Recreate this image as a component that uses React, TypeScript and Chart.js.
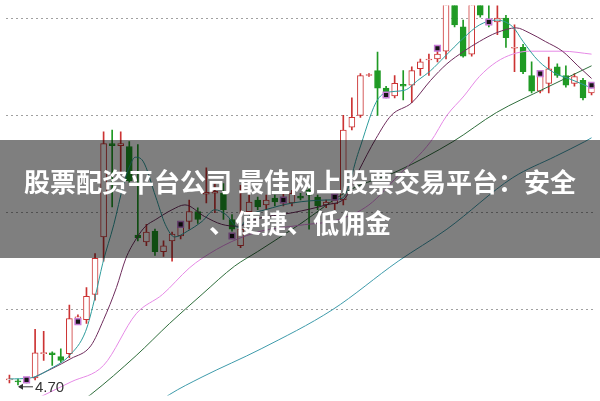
import React, { useEffect, useRef } from "react";
import { Chart, registerables } from "chart.js";

Chart.register(...registerables);

// ---- candle data (daily K line) ----
const opens = [4.725, 4.72, 4.725, 4.735, 4.86, 4.865, 4.845, 4.86, 5.04, 5.035, 5.165, 5.46, 5.94, 5.93, 5.925, 5.47, 5.435, 5.49, 5.385, 5.44, 5.465, 5.54, 5.59, 5.68, 5.685, 5.685, 5.55, 5.415, 5.59, 5.65, 5.625, 5.66, 5.635, 5.635, 5.67, 5.70, 5.665, 5.625, 5.63, 5.65, 6.025, 6.085, 6.29, 6.315, 6.225, 6.185, 6.245, 6.24, 6.325, 6.37, 6.375, 6.415, 6.70, 6.54, 6.40, 6.675, 6.575, 6.565, 6.585, 6.43, 6.435, 6.29, 6.21, 6.25, 6.335, 6.29, 6.25, 6.265, 6.20];
const highs = [4.75, 4.73, 4.735, 4.985, 4.975, 4.87, 4.885, 5.11, 5.06, 5.20, 5.375, 6.00, 6.01, 6.00, 5.95, 5.935, 5.525, 5.50, 5.44, 5.485, 5.525, 5.65, 5.61, 5.815, 5.735, 5.735, 5.575, 5.725, 5.675, 5.665, 5.675, 5.675, 5.68, 5.70, 5.685, 5.715, 5.675, 5.65, 5.67, 6.085, 6.175, 6.30, 6.30, 6.41, 6.235, 6.29, 6.315, 6.335, 6.375, 6.40, 6.44, 6.80, 6.75, 6.575, 6.775, 6.725, 6.675, 6.675, 6.60, 6.55, 6.45, 6.36, 6.30, 6.385, 6.35, 6.34, 6.30, 6.275, 6.25];
const lows = [4.71, 4.70, 4.71, 4.725, 4.825, 4.80, 4.815, 4.84, 5.015, 5.015, 5.135, 5.335, 5.615, 5.785, 5.74, 5.44, 5.415, 5.365, 5.36, 5.335, 5.45, 5.50, 5.53, 5.635, 5.585, 5.55, 5.49, 5.405, 5.575, 5.60, 5.60, 5.62, 5.62, 5.62, 5.65, 5.50, 5.60, 5.61, 5.60, 5.625, 6.01, 6.075, 6.285, 6.085, 6.175, 6.175, 6.165, 6.15, 6.29, 6.29, 6.36, 6.375, 6.54, 6.385, 6.39, 6.59, 6.54, 6.50, 6.435, 6.31, 6.30, 6.20, 6.20, 6.20, 6.28, 6.23, 6.235, 6.165, 6.19];
const closes = [4.73, 4.715, 4.72, 4.865, 4.865, 4.855, 4.825, 5.04, 5.05, 5.155, 5.35, 5.94, 5.93, 5.94, 5.75, 5.455, 5.485, 5.385, 5.415, 5.475, 5.51, 5.59, 5.55, 5.69, 5.695, 5.60, 5.50, 5.50, 5.64, 5.615, 5.65, 5.64, 5.66, 5.685, 5.66, 5.675, 5.62, 5.64, 5.65, 6.01, 6.075, 6.29, 6.295, 6.225, 6.19, 6.25, 6.235, 6.315, 6.36, 6.375, 6.40, 6.75, 6.55, 6.39, 6.725, 6.60, 6.55, 6.585, 6.485, 6.435, 6.31, 6.21, 6.29, 6.325, 6.29, 6.24, 6.285, 6.175, 6.24];

// ---- moving averages (candle index, price) ----
const ma5Idx = [0, 2.4, 4.9, 7.0, 8.9, 10.0, 10.9, 12.2, 13.3, 14.1, 14.7, 15.6, 17.1, 18.2, 19.3, 20.8, 22.5, 24.0, 25.3, 26.7, 28.2, 29.9, 33.1, 37.0, 38.9, 40.8, 42.8, 43.9, 46.2, 47.7, 49.2, 50.8, 53.1, 54.9, 56.9, 58.8, 60.0, 61.8, 63.8, 65.3, 67.5, 68];
const ma5Val = [4.73, 4.735, 4.785, 4.85, 4.975, 5.15, 5.325, 5.525, 5.725, 5.83, 5.87, 5.85, 5.665, 5.525, 5.46, 5.49, 5.54, 5.60, 5.575, 5.51, 5.575, 5.60, 5.635, 5.65, 5.66, 5.90, 6.15, 6.20, 6.215, 6.265, 6.315, 6.385, 6.485, 6.55, 6.575, 6.54, 6.465, 6.365, 6.30, 6.275, 6.235, 6.225];
const ma10Idx = [2.75, 7.2, 9.5, 11.0, 12.5, 13.6, 14.8, 15.9, 17.1, 19.0, 20.5, 22.8, 24.8, 26.7, 28.6, 33.1, 37.0, 39.3, 40.8, 42.8, 44.6, 47.0, 49.2, 51.1, 53.1, 54.9, 56.9, 59.2, 60.7, 62.6, 64.6, 66.4, 68];
const ma10Val = [4.735, 4.835, 4.90, 5.035, 5.20, 5.35, 5.45, 5.515, 5.55, 5.60, 5.625, 5.565, 5.525, 5.515, 5.55, 5.585, 5.625, 5.665, 5.80, 5.965, 6.085, 6.15, 6.265, 6.35, 6.415, 6.465, 6.51, 6.535, 6.51, 6.465, 6.415, 6.34, 6.275];
const ma20Idx = [3.0, 7.2, 11.0, 14.8, 17.9, 21.0, 22.5, 25.9, 29.4, 33.9, 38.5, 42.0, 45.4, 49.2, 51.1, 53.1, 54.9, 56.9, 58.8, 60.7, 64.6, 68];
const ma20Val = [4.625, 4.715, 4.80, 5.065, 5.165, 5.30, 5.35, 5.435, 5.49, 5.52, 5.55, 5.625, 5.775, 5.95, 6.085, 6.185, 6.285, 6.36, 6.40, 6.415, 6.415, 6.40];
const ma30Idx = [8.7, 9.5, 14.8, 18.7, 22.5, 26.3, 29.0, 33.9, 39.7, 45.4, 51.8, 56.9, 62.6, 68];
const ma30Val = [4.625, 4.65, 4.85, 5.015, 5.165, 5.31, 5.385, 5.525, 5.70, 5.80, 5.95, 6.10, 6.225, 6.34];
const ma60Idx = [17.9, 18.7, 22.5, 29.4, 37.7, 45.4, 51.1, 58.8, 63.8, 67.2, 68];
const ma60Val = [4.625, 4.65, 4.74, 4.885, 5.085, 5.335, 5.50, 5.765, 5.875, 5.95, 5.97];

// ---- signal markers ----
const markerIdx = [2, 8, 20, 26, 32, 38, 44, 50, 56, 62, 68];
const markerVal = [4.725, 5.025, 5.525, 5.465, 5.65, 5.665, 6.19, 6.43, 6.565, 6.30, 6.24];

// ---- axis ----
const gridValues = [5.085, 5.585, 6.085, 6.585];
const yMin = 4.645;
const yMax = 6.65;
const xMin = -0.459;
const xMax = 68.344;
const lowIndex = 1;
const lowLabel = "4.70";

const titleLine1 = "股票配资平台公司 最佳网上股票交易平台：安全";
const titleLine2 = "、便捷、低佣金";

const RED = "#cc3333";
const GREEN = "#1f9a24";

const pts = (xs: number[], ys: number[]) => xs.map((x, i) => ({ x, y: ys[i] }));

export default function App() {
  const ref = useRef<HTMLCanvasElement | null>(null);

  useEffect(() => {
    if (!ref.current) return;
    const up = (i: number) => closes[i] >= opens[i];

    const lowLabelPlugin = {
      id: "lowLabel",
      afterDatasetsDraw(chart: any) {
        const ctx = chart.ctx;
        const xs = chart.scales.x;
        const ys = chart.scales.y;
        const px = xs.getPixelForValue(lowIndex);
        const py = ys.getPixelForValue(lows[lowIndex]) + 2;
        ctx.save();
        ctx.strokeStyle = "#333";
        ctx.fillStyle = "#333";
        ctx.lineWidth = 1;
        ctx.beginPath();
        ctx.moveTo(px + 1, py);
        ctx.lineTo(px + 15, py);
        ctx.stroke();
        ctx.beginPath();
        ctx.moveTo(px, py);
        ctx.lineTo(px + 5, py - 3);
        ctx.lineTo(px + 5, py + 3);
        ctx.closePath();
        ctx.fill();
        ctx.font = '15px "Liberation Sans", Arial, sans-serif';
        ctx.textBaseline = "middle";
        ctx.fillText(lowLabel, px + 17, py + 1);
        ctx.restore();
      },
    };

    const lineDs = (label: string, xs: number[], ys: number[], color: string) => ({
      type: "line" as const,
      label,
      data: pts(xs, ys),
      borderColor: color,
      borderWidth: 1,
      pointRadius: 0,
      cubicInterpolationMode: "monotone" as const,
      order: 2,
    });

    const chart = new Chart(ref.current, {
      type: "bar",
      data: {
        datasets: [
          {
            type: "bar",
            label: "wick",
            data: highs.map((h, i) => ({ x: i, y: [lows[i], h] })) as any,
            backgroundColor: highs.map((_, i) => (up(i) ? RED : GREEN)),
            barThickness: 1,
            grouped: false,
            order: 5,
          } as any,
          {
            type: "bar",
            label: "body",
            data: opens.map((o, i) => ({ x: i, y: [o, closes[i]] })) as any,
            backgroundColor: opens.map((_, i) => (up(i) ? "#ffffff" : GREEN)),
            borderColor: opens.map((_, i) => (up(i) ? RED : GREEN)),
            borderWidth: 1,
            borderSkipped: false,
            barThickness: 6,
            minBarLength: 1,
            grouped: false,
            order: 4,
          } as any,
          lineDs("MA5", ma5Idx, ma5Val, "#2e9c9c"),
          lineDs("MA10", ma10Idx, ma10Val, "#6e2c5c"),
          lineDs("MA20", ma20Idx, ma20Val, "#e68ae6"),
          lineDs("MA30", ma30Idx, ma30Val, "#2f6e3c"),
          lineDs("MA60", ma60Idx, ma60Val, "#3f9bab"),
          {
            type: "scatter",
            label: "signal",
            data: pts(markerIdx, markerVal),
            pointStyle: "rect",
            pointRadius: 4,
            backgroundColor: "#161616",
            borderColor: "#c77ad6",
            borderWidth: 1.5,
            order: 1,
          } as any,
        ],
      },
      options: {
        responsive: false,
        animation: false,
        layout: { padding: 0 },
        plugins: { legend: { display: false }, tooltip: { enabled: false } },
        scales: {
          x: { type: "linear", min: xMin, max: xMax, display: false, offset: false },
          y: {
            type: "linear",
            min: yMin,
            max: yMax,
            afterBuildTicks: (s: any) => {
              s.ticks = gridValues.map((v) => ({ value: v }));
            },
            afterFit: (s: any) => {
              s.width = 0;
            },
            ticks: { display: false },
            grid: { color: "#a0a0a0", lineWidth: 1, drawTicks: false },
            border: { display: false, dash: [2, 3] },
          },
        },
      } as any,
      plugins: [lowLabelPlugin],
    });
    return () => chart.destroy();
  }, []);

  return (
    <div style={{ position: "absolute", left: 0, top: 0, width: 600, height: 401, background: "#fff", overflow: "hidden" }}>
      <canvas ref={ref} width={600} height={401} style={{ display: "block" }} />
      <div
        style={{
          position: "absolute",
          left: 0,
          top: 140,
          width: 600,
          height: 118,
          background: "rgba(0,0,0,0.5)",
          color: "#fff",
          fontFamily: '"Noto Sans CJK SC", sans-serif',
          fontWeight: 700,
          fontSize: 26,
          lineHeight: "41px",
          textAlign: "center",
          paddingTop: 20,
          boxSizing: "border-box",
          whiteSpace: "nowrap",
        }}
      >
        <div>{titleLine1}</div>
        <div>{titleLine2}</div>
      </div>
    </div>
  );
}
